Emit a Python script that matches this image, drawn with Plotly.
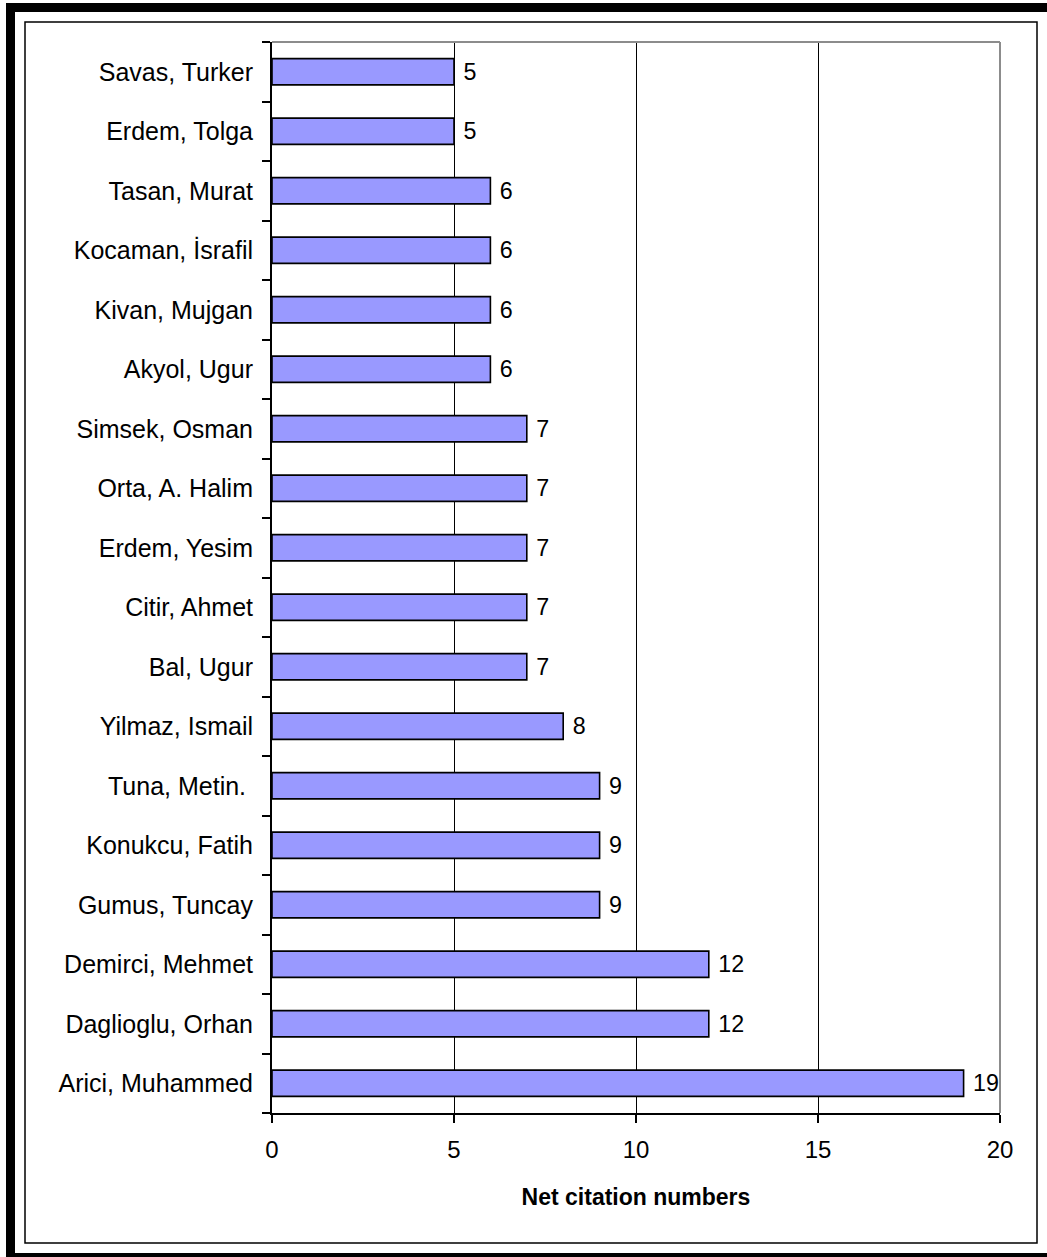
import plotly.graph_objects as go

# Data (bottom to top)
authors = [
    "Arici, Muhammed", "Daglioglu, Orhan", "Demirci, Mehmet", "Gumus, Tuncay",
    "Konukcu, Fatih", "Tuna, Metin. ", "Yilmaz, Ismail", "Bal, Ugur",
    "Citir, Ahmet", "Erdem, Yesim", "Orta, A. Halim", "Simsek, Osman",
    "Akyol, Ugur", "Kivan, Mujgan", "Kocaman, İsrafil", "Tasan, Murat",
    "Erdem, Tolga", "Savas, Turker",
]
citations = [19, 12, 12, 9, 9, 9, 8, 7, 7, 7, 7, 7, 6, 6, 6, 6, 5, 5]
x_ticks = [0, 5, 10, 15, 20]
x_title = "Net citation numbers"

W, H = 1047, 1257
L, R, T, B = 272, 47, 42, 144
PW, PH = W - L - R, H - T - B

def px(x):
    return (x - L) / PW

def py(y):
    return (H - B - y) / PH

FONT = "Arial, Liberation Sans, sans-serif"

fig = go.Figure(
    go.Bar(
        y=authors,
        x=citations,
        orientation="h",
        marker=dict(color="#9999FF", line=dict(color="black", width=1.6)),
        text=citations,
        texttemplate=" %{x}",
        textposition="outside",
        textfont=dict(family=FONT, size=24, color="black"),
        cliponaxis=False,
        hoverinfo="skip",
    )
)

def band(x0, x1, y0, y1):
    return dict(type="rect", xref="paper", yref="paper", layer="below",
                x0=px(x0), x1=px(x1), y0=py(y0), y1=py(y1),
                fillcolor="black", line=dict(width=0))

shapes = [
    # thick black frame (cropped shadow): top, left, bottom bands
    band(6, W, 3, 12),
    band(6, 15, 3, H),
    band(6, W, 1253, H),
    # inner thin border
    dict(type="rect", xref="paper", yref="paper", layer="below",
         x0=px(25), x1=px(1037), y0=py(22), y1=py(1243),
         fillcolor="rgba(0,0,0,0)", line=dict(color="black", width=1.5)),
    # plot area top and right borders (gray)
    dict(type="line", xref="paper", yref="paper", layer="above",
         x0=0, x1=1, y0=1, y1=1, line=dict(color="#8c8c8c", width=2)),
    dict(type="line", xref="paper", yref="paper", layer="above",
         x0=1, x1=1, y0=0, y1=1, line=dict(color="#8c8c8c", width=2)),
]

fig.update_layout(
    width=W, height=H,
    margin=dict(l=L, r=R, t=T, b=B, pad=0),
    paper_bgcolor="white",
    plot_bgcolor="rgba(0,0,0,0)",
    showlegend=False,
    bargap=0.56,
    font=dict(family=FONT, size=24, color="black"),
    shapes=shapes,
    xaxis=dict(
        range=[0, 20],
        tickvals=x_ticks,
        ticks="outside", ticklen=8, tickwidth=1.5, tickcolor="black",
        showline=True, linecolor="black", linewidth=2,
        showgrid=True, gridcolor="black", gridwidth=1,
        zeroline=False,
        ticklabelstandoff=6,
        tickfont=dict(family=FONT, size=24, color="black"),
        title=dict(text="<b>" + x_title + "</b>", standoff=27,
                   font=dict(family=FONT, size=23, color="black")),
        fixedrange=True,
    ),
    yaxis=dict(
        type="category",
        categoryorder="array", categoryarray=authors,
        ticks="outside", ticklen=8, tickwidth=1.5, tickcolor="black",
        tickson="boundaries",
        showline=True, linecolor="black", linewidth=2,
        showgrid=False, zeroline=False,
        ticklabelstandoff=12,
        tickfont=dict(family=FONT, size=25, color="black"),
        fixedrange=True,
    ),
)

fig.write_html(
    "out.html",
    config={"displayModeBar": False},
    post_script=(
        "document.body.style.margin='0';document.body.style.padding='0';"
        "document.body.style.overflow='hidden';"
    ),
)
